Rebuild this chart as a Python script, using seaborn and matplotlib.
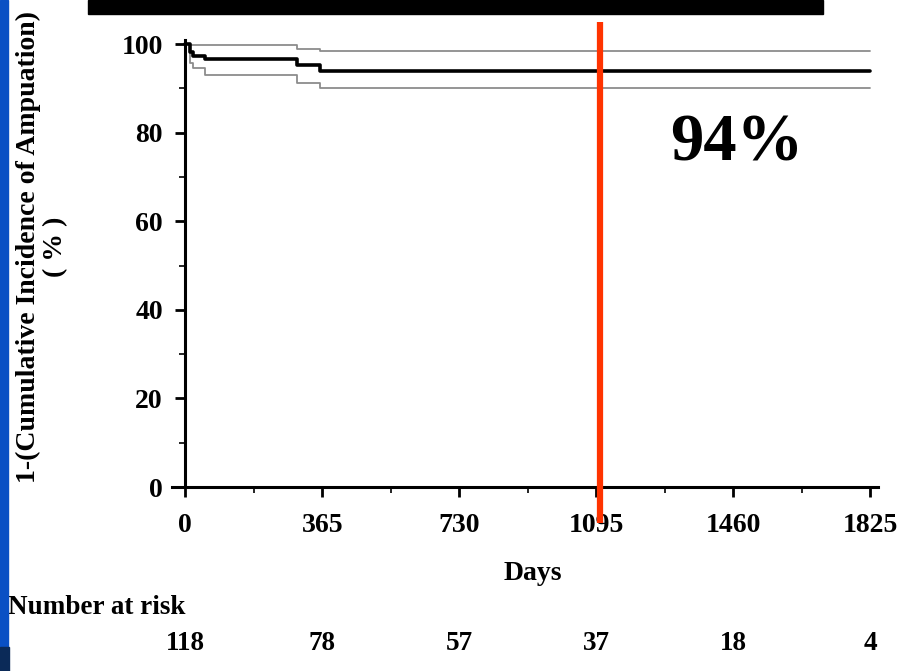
import matplotlib
matplotlib.use("Agg")
import matplotlib.pyplot as plt
from matplotlib.patches import Rectangle
from matplotlib.ticker import MultipleLocator
import matplotlib.transforms as mtransforms
import pandas as pd
import seaborn as sns

# Kaplan-Meier style step curve
days = [0, 13, 21, 53, 298, 360, 1825]
survival = [100, 98.3, 97.4, 96.6, 95.3, 94.0, 94.0]
upper_ci = [100, 99.8, 99.8, 99.8, 98.9, 98.5, 98.5]
lower_ci = [100, 95.8, 94.5, 93.1, 91.3, 90.0, 90.0]

x_ticks = [0, 365, 730, 1095, 1460, 1825]
at_risk = [118, 78, 57, 37, 18, 4]
marker_day = 1105
headline = "94%"

sns.set_style("ticks")
plt.rcParams['font.family'] = ['Liberation Serif', 'DejaVu Serif']
plt.rcParams['font.weight'] = 'bold'
for key in ['text.color', 'axes.labelcolor', 'xtick.color', 'ytick.color', 'axes.edgecolor']:
    plt.rcParams[key] = 'black'

fig = plt.figure(figsize=(9.02, 6.71), dpi=100)
ax = fig.add_axes([0.1907, 0.2742, 0.7827, 0.6668])

df = pd.DataFrame({'Days': days, 'surv': survival, 'upper': upper_ci, 'lower': lower_ci})

# confidence bands (thin grey) and the estimate (thick black)
sns.lineplot(data=df, x='Days', y='upper', ax=ax, color='#8c8c8c', lw=1.3,
             drawstyle='steps-post', estimator=None)
sns.lineplot(data=df, x='Days', y='lower', ax=ax, color='#8c8c8c', lw=1.3,
             drawstyle='steps-post', estimator=None)
sns.lineplot(data=df, x='Days', y='surv', ax=ax, color='black', lw=2.6,
             drawstyle='steps-post', estimator=None)

ax.set_xlim(-35, 1845)
ax.set_ylim(0, 101)
ax.set_xticks(x_ticks)
ax.set_yticks([0, 20, 40, 60, 80, 100])
ax.xaxis.set_minor_locator(MultipleLocator(182.5))
ax.yaxis.set_minor_locator(MultipleLocator(10))

sns.despine(ax=ax)
ax.spines['left'].set_position(('data', 0))
for side in ['left', 'bottom']:
    ax.spines[side].set_linewidth(2.2)
ax.tick_params(which='major', length=7, width=2, labelsize=20)
ax.tick_params(axis='x', which='major', pad=12)
ax.tick_params(axis='y', which='major', pad=9)
ax.tick_params(which='minor', length=4, width=1.2)
for lab in ax.get_xticklabels() + ax.get_yticklabels():
    lab.set_fontweight('bold')

ax.set_xlabel('Days', fontsize=20, fontweight='bold')
ax.xaxis.set_label_coords(0.511, -0.165)
ax.set_ylabel('')

fig.text(42 / 902, 1 - 247 / 671, '1-(Cumulative Incidence of Ampuation)\n( % )',
         rotation=90, ha='center', va='center', multialignment='center',
         fontsize=20, fontweight='bold', linespacing=1.1)

# red marker line at 3 years
ax.plot([marker_day, marker_day], [-8.1, 105], color='#ff3300', lw=4.5,
        solid_capstyle='butt', clip_on=False, zorder=5)
ax.text(1470, 77.5, headline, ha='center', va='center', fontsize=48,
        fontweight='bold')

# number at risk table
fig.text(8 / 902, 1 - 608 / 671, 'Number at risk', ha='left', va='center',
         fontsize=19.5, fontweight='bold')
trans = mtransforms.blended_transform_factory(ax.transData, fig.transFigure)
for d, n in zip(x_ticks, at_risk):
    ax.text(d, 1 - 643 / 671, str(n), transform=trans, ha='center', va='center',
            fontsize=19.5, fontweight='bold', clip_on=False)

# slide decorations: black title bar and blue left edge
fig.patches.append(Rectangle((88 / 902, 1 - 14 / 671), 735 / 902, 14 / 671,
                             transform=fig.transFigure, color='black', zorder=10))
fig.patches.append(Rectangle((0, 0), 8 / 902, 1, transform=fig.transFigure,
                             color='#0a50c4', zorder=10))
fig.patches.append(Rectangle((0, 0), 9 / 902, 24 / 671, transform=fig.transFigure,
                             color='#0b2a58', zorder=11))

fig.savefig('out.png', dpi=100)
